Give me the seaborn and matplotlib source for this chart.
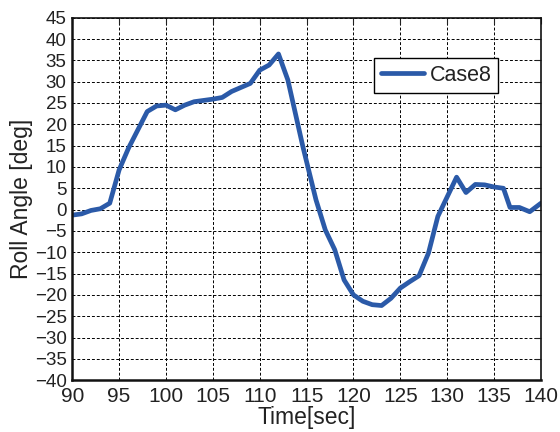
import matplotlib
matplotlib.use("Agg")
import matplotlib.pyplot as plt
import seaborn as sns
import pandas as pd

# Roll angle time history for Case8
time_sec = [90, 91, 92, 93, 94, 95, 96, 97, 98, 99, 100, 101, 102, 103, 105,
            106, 107, 109, 110, 111, 112, 113, 114.6, 116, 117, 118, 119, 120,
            121, 122, 123, 124, 125, 126, 127, 128, 129, 130, 131, 132, 133,
            134, 135, 136, 136.7, 137.7, 138.8, 140]
roll_deg = [-1.3, -1.0, -0.2, 0.2, 1.5, 9.3, 14.4, 18.7, 23.0, 24.3, 24.5,
            23.4, 24.5, 25.3, 25.9, 26.3, 27.7, 29.6, 32.7, 33.9, 36.5, 30.4,
            14.8, 2.3, -4.8, -9.4, -16.5, -20.0, -21.5, -22.3, -22.5, -20.8,
            -18.4, -16.9, -15.5, -10.2, -1.6, 3.0, 7.6, 4.0, 5.9, 5.8, 5.3,
            5.0, 0.5, 0.5, -0.5, 1.5]
series_name = "Case8"

x_ticks = list(range(90, 141, 5))
y_ticks = list(range(-40, 46, 5))

df = pd.DataFrame({"Time": time_sec, "Roll": roll_deg, "Case": series_name})

sns.set_style("white")
plt.rcParams["font.family"] = ["Liberation Sans", "DejaVu Sans"]

fig = plt.figure(figsize=(5.6, 4.32), dpi=100)
ax = fig.add_axes([0.129, 0.120, 0.837, 0.839])

sns.lineplot(data=df, x="Time", y="Roll", hue="Case", palette=["#2b5aa8"],
             linewidth=3.4, ax=ax, sort=False)

ax.set_xlim(90, 140)
ax.set_ylim(-40, 45)
ax.set_xticks(x_ticks)
ax.set_yticks(y_ticks)
ax.tick_params(direction="in", top=True, right=True, length=4, width=0.8,
               colors="#222222")
ax.tick_params(axis="x", labelsize=15, pad=5)
ax.tick_params(axis="y", labelsize=13.5, pad=4)
ax.grid(True, linestyle=(0, (3, 2)), color="black", linewidth=0.7)
for name, s in ax.spines.items():
    s.set_color("#111111")
    s.set_linewidth(1.8 if name in ("left", "bottom") else 1.2)

ax.set_xlabel("Time[sec]", fontsize=16.5, labelpad=0, color="#222222")
ax.set_ylabel("Roll Angle [deg]", fontsize=16.5, labelpad=1, color="#222222")

leg = ax.legend(loc="upper left", bbox_to_anchor=(0.644, 0.889), fontsize=15.5,
                frameon=True, fancybox=False, shadow=False, borderpad=0.32,
                handlelength=2.0, handletextpad=0.25, borderaxespad=0)
leg.get_frame().set_edgecolor("black")
leg.get_frame().set_linewidth(1.0)
leg.get_frame().set_alpha(1)
for t in leg.get_texts():
    t.set_color("#222222")

fig.savefig("out.png", dpi=100)
